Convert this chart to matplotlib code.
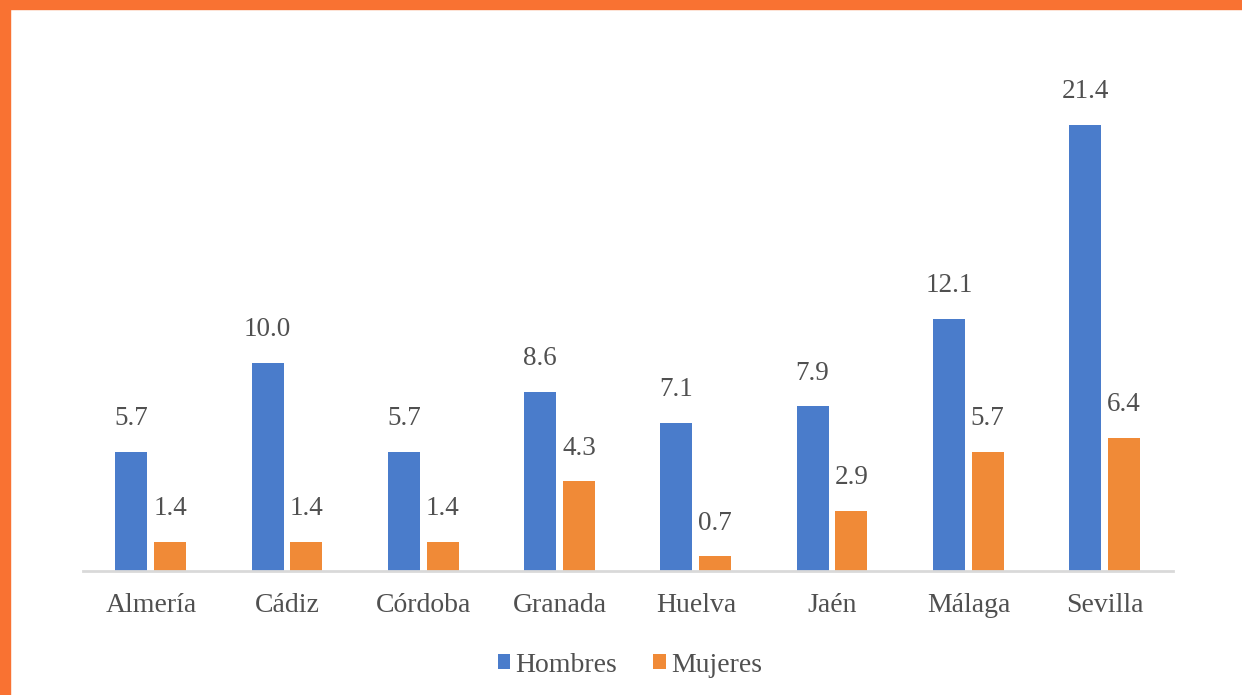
import matplotlib.pyplot as plt
import numpy as np
from matplotlib.patches import Rectangle

provincias = ['Almería', 'Cádiz', 'Córdoba', 'Granada', 'Huelva', 'Jaén', 'Málaga', 'Sevilla']
hombres = [5.7, 10.0, 5.7, 8.6, 7.1, 7.9, 12.1, 21.4]
mujeres = [1.4, 1.4, 1.4, 4.3, 0.7, 2.9, 5.7, 6.4]

plt.rcParams['font.family'] = ['Liberation Serif', 'DejaVu Serif']
GREY = '#505050'

W, H = 1242, 695
fig = plt.figure(figsize=(W / 100, H / 100), dpi=100)

# orange frame, top and left
fig.patches.append(Rectangle((0, 1 - 9 / H), 1, 9 / H, transform=fig.transFigure,
                             color='#F97232', zorder=0))
fig.patches.append(Rectangle((0, 0), 10 / W, 1, transform=fig.transFigure,
                             color='#F97232', zorder=0))

left, right = 83, 1173
bottom, top = 571, 71
ax = fig.add_axes([left / W, 1 - bottom / H, (right - left) / W, (bottom - top) / H])

x = np.arange(len(provincias))
w = 0.235
b1 = ax.bar(x - 0.145, hombres, w, color='#4A7CCB', label='Hombres')
b2 = ax.bar(x + 0.14, mujeres, w, color='#F08A37', label='Mujeres')

for bars, vals in ((b1, hombres), (b2, mujeres)):
    for r, v in zip(bars, vals):
        ax.annotate(f'{v:.1f}', (r.get_x() + r.get_width() / 2, v),
                    xytext=(0, 15), textcoords='offset points',
                    ha='center', va='bottom', fontsize=19.5, color=GREY)

ax.set_xlim(-0.5, len(provincias) - 0.5)
ax.set_ylim(0, 24)
ax.set_xticks(x)
ax.set_xticklabels(provincias, fontsize=20, color=GREY)
ax.tick_params(axis='x', length=0, pad=16)
ax.set_yticks([])
for s in ['top', 'right', 'left']:
    ax.spines[s].set_visible(False)
ax.spines['bottom'].set_color('#D9D9D9')
ax.spines['bottom'].set_linewidth(2)

leg = fig.legend(loc='center', bbox_to_anchor=(630 / W, 1 - 665 / H), ncol=2,
                 frameon=False, fontsize=20, handlelength=0.45, handleheight=0.45,
                 handletextpad=0.2, columnspacing=1.3)
for t in leg.get_texts():
    t.set_color(GREY)

fig.savefig('out.png', dpi=100)
